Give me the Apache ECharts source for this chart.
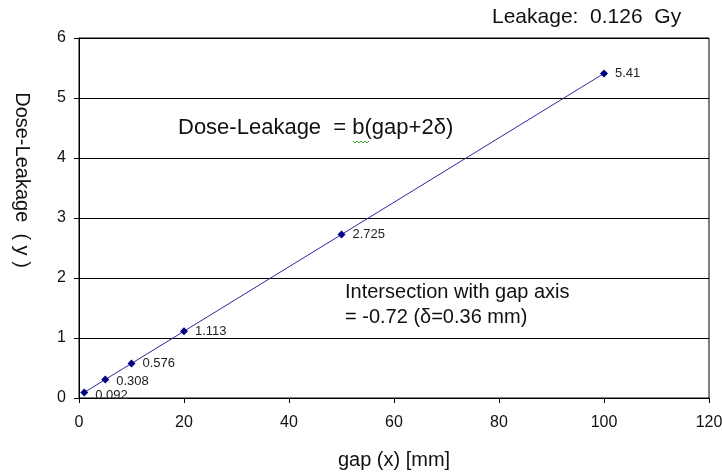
<!DOCTYPE html>
<html lang="en">
<head>
<meta charset="utf-8">
<title>Dose-Leakage vs gap</title>
<script src="https://cdn.jsdelivr.net/npm/echarts@6/dist/echarts.min.js"></script>
<style>
  html, body { margin: 0; padding: 0; background: #fff; }
  #main { width: 722px; height: 473px; }
</style>
</head>
<body>
<div id="main"></div>
<script type="text/javascript">
// measured points
var gapValues = [1, 5, 10, 20, 50, 100];
var doseValues = [0.092, 0.308, 0.576, 1.113, 2.725, 5.41];
var doseLabels = ['0.092', '0.308', '0.576', '1.113', '2.725', '5.41'];

var pts = gapValues.map(function (g, i) { return [g, doseValues[i]]; });

var myChart = echarts.init(document.getElementById('main'));
var font = 'Liberation Sans, Arial, sans-serif';

var option = {
    backgroundColor: '#fff',
    animation: false,
    grid: {
        left: 79, right: 13, top: 38, bottom: 75,
        outerBoundsMode: 'none',
        containLabel: false,
        show: true, borderColor: '#000', borderWidth: 1
    },
    xAxis: {
        type: 'value',
        min: 0, max: 120, interval: 20,
        name: 'gap (x) [mm]',
        nameLocation: 'middle',
        nameGap: 52,
        nameTextStyle: { fontFamily: font, fontSize: 20, color: '#111' },
        axisLine: { lineStyle: { color: '#000' } },
        axisTick: { show: true, inside: false, length: 5, lineStyle: { color: '#000' } },
        axisLabel: { fontFamily: font, fontSize: 16, color: '#111', margin: 17 },
        splitLine: { show: false }
    },
    yAxis: {
        type: 'value',
        min: 0, max: 6, interval: 1,
        axisLine: { show: true, lineStyle: { color: '#000' } },
        axisTick: { show: true, inside: false, length: 5, lineStyle: { color: '#000' } },
        axisLabel: { fontFamily: font, fontSize: 16, color: '#111', margin: 13 },
        splitLine: { show: true, lineStyle: { color: '#000', width: 1 } }
    },
    series: [{
        type: 'line',
        data: pts,
        symbol: 'diamond',
        symbolSize: 8,
        itemStyle: { color: '#000080' },
        lineStyle: { color: '#2a2aa0', width: 1 },
        label: {
            show: true,
            position: 'right',
            distance: 7,
            fontFamily: font,
            fontSize: 13,
            color: '#222',
            formatter: function (p) { return doseLabels[p.dataIndex]; }
        },
        labelLayout: function (p) {
            if (p.dataIndex === 0) return { dy: 3 };
            if (p.dataIndex === 1) return { dy: 2 };
            return {};
        }
    }],
    graphic: [
        {
            type: 'text', x: 22, y: 180, rotation: -Math.PI / 2,
            style: { text: 'Dose-Leakage\u00a0 ( y )', font: '20px ' + font, fill: '#111',
                     textAlign: 'center', textVerticalAlign: 'middle' }
        },
        {
            type: 'text', left: 492, top: 7,
            style: { text: 'Leakage:  0.126  Gy', font: '21px ' + font, fill: '#111' }
        },
        {
            type: 'text', left: 178, top: 117,
            style: { text: 'Dose-Leakage  = b(gap+2\u03b4)', font: '22px ' + font, fill: '#111' }
        },
        {
            type: 'polyline', silent: true,
            shape: { points: [[353, 141], [355, 143], [357, 141], [359, 143], [361, 141], [363, 143], [365, 141], [367, 143], [369, 141]] },
            style: { stroke: '#3aa83a', lineWidth: 1, fill: null }
        },
        {
            type: 'text', left: 345, top: 282,
            style: { text: 'Intersection with gap axis', font: '20px ' + font, fill: '#111' }
        },
        {
            type: 'text', left: 345, top: 307,
            style: { text: '= -0.72 (\u03b4=0.36 mm)', font: '20px ' + font, fill: '#111' }
        }
    ]
};

myChart.setOption(option);
</script>
</body>
</html>
